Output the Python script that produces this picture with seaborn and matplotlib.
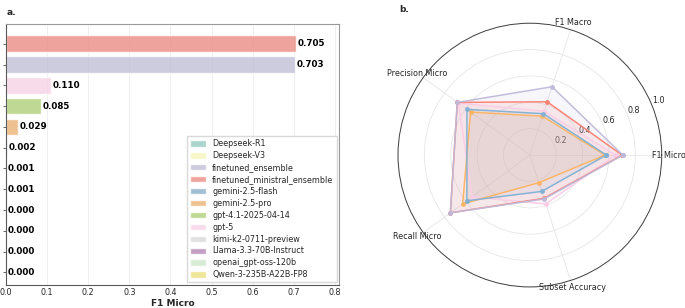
import numpy as np
import pandas as pd
import matplotlib
matplotlib.use("Agg")
import matplotlib.pyplot as plt
import seaborn as sns

# ---------------- data ----------------
models = ["finetuned_ministral_ensemble", "finetuned_ensemble", "gpt-5",
          "gpt-4.1-2025-04-14", "gemini-2.5-pro", "gemini-2.5-flash",
          "kimi-k2-0711-preview", "Deepseek-V3", "Deepseek-R1",
          "Llama-3.3-70B-Instruct", "openai_gpt-oss-120b", "Qwen-3-235B-A22B-FP8"]
f1_micro = [0.705, 0.703, 0.110, 0.085, 0.029, 0.002, 0.001, 0.001, 0.000, 0.000, 0.000, 0.000]

legend_order = ["Deepseek-R1", "Deepseek-V3", "finetuned_ensemble",
                "finetuned_ministral_ensemble", "gemini-2.5-flash", "gemini-2.5-pro",
                "gpt-4.1-2025-04-14", "gpt-5", "kimi-k2-0711-preview",
                "Llama-3.3-70B-Instruct", "openai_gpt-oss-120b", "Qwen-3-235B-A22B-FP8"]

radar_metrics = ["F1 Micro", "F1 Macro", "Precision Micro", "Recall Micro", "Subset Accuracy"]
radar_models = ["gpt-5", "gemini-2.5-pro", "gemini-2.5-flash",
                "finetuned_ministral_ensemble", "finetuned_ensemble"]
radar_gpt5 = [0.65, 0.35, 0.67, 0.54, 0.39]
radar_gemini_pro = [0.57, 0.31, 0.555, 0.63, 0.22]
radar_gemini_flash = [0.58, 0.33, 0.59, 0.59, 0.29]
radar_finetuned_ministral = [0.70, 0.425, 0.68, 0.745, 0.345]
radar_finetuned_ensemble = [0.705, 0.545, 0.68, 0.745, 0.35]
radar_values = [radar_gpt5, radar_gemini_pro, radar_gemini_flash,
                radar_finetuned_ministral, radar_finetuned_ensemble]

# ---------------- style ----------------
sns.set_theme(style="whitegrid")
plt.rcParams['font.family'] = ['DejaVu Sans']
palette = dict(zip(legend_order, sns.color_palette("Set3", 12)))

fig = plt.figure(figsize=(6.85, 3.08), dpi=100)

# ---------------- panel a ----------------
ax = fig.add_axes([0.0088, 0.075, 0.486, 0.847])
df = pd.DataFrame({"model": models, "F1 Micro": f1_micro})
sns.barplot(data=df, y="model", x="F1 Micro", hue="model", order=models,
            hue_order=legend_order, palette=palette, dodge=False, alpha=0.8,
            width=0.8, legend=True, ax=ax)
for i, v in enumerate(f1_micro):
    ax.text(v + 0.004, i, f"{v:.3f}", va="center", ha="left",
            fontsize=6.3, fontweight="bold", color="black")
ax.set_xlim(0, 0.81)
ax.set_ylim(11.6, -0.95)
ax.set_yticks(range(len(models)))
ax.set_yticklabels([])
ax.set_ylabel("")
ax.set_xlabel("F1 Micro", fontsize=6.5, fontweight="bold", labelpad=2)
ax.tick_params(axis="x", labelsize=5.8, pad=2, length=0)
ax.tick_params(axis="y", left=True, length=2, width=0.6, color="0.3")
ax.grid(axis="y", visible=False)
ax.grid(axis="x", color="0.92", linewidth=0.6)
for s in ax.spines.values():
    s.set_color("0.6")
    s.set_linewidth(0.8)
ax.spines["left"].set_color("0.35")
ax.spines["bottom"].set_color("0.35")
leg = ax.legend(loc="lower right", fontsize=5.8, frameon=True, framealpha=1,
                borderaxespad=0.3, labelspacing=0.36, handlelength=2.0,
                handleheight=0.8, handletextpad=0.7, edgecolor="0.85",
                fancybox=False)
fig.text(0.01, 0.975, "a.", fontsize=6.5, fontweight="bold", va="top")

# ---------------- panel b ----------------
pax = fig.add_axes([0.581, 0.068, 0.385, 0.857], projection="polar")
angles = np.linspace(0, 2 * np.pi, len(radar_metrics), endpoint=False)
rows = []
for m, vals in zip(radar_models, radar_values):
    for a, v in zip(list(angles) + [2 * np.pi], vals + [vals[0]]):
        rows.append({"model": m, "angle": a, "value": v})
rdf = pd.DataFrame(rows)
sns.lineplot(data=rdf, x="angle", y="value", hue="model", hue_order=radar_models,
             palette=palette, sort=False, marker="o", markersize=3.5,
             markeredgewidth=0, linewidth=1.1, legend=False, ax=pax, alpha=0.95)
for m, vals in zip(radar_models, radar_values):
    pax.fill(list(angles) + [angles[0]], vals + [vals[0]],
             color=palette[m], alpha=0.12, linewidth=0)
pax.set_ylim(0, 1.0)
pax.set_xticks(angles)
pax.set_xticklabels([])
for a, name in zip(angles, radar_metrics):
    pax.text(a, 1.055, name, ha="center", va="center", fontsize=5.8,
             color="0.15", clip_on=False)
pax.set_yticks([0.2, 0.4, 0.6, 0.8, 1.0])
pax.set_yticklabels(["0.2", "0.4", "0.6", "0.8", "1.0"], fontsize=5.8)
pax.set_rlabel_position(22.5)
pax.set_xlabel("")
pax.set_ylabel("")
pax.grid(color="0.9", linewidth=0.6)
pax.spines["polar"].set_color("0.25")
pax.spines["polar"].set_linewidth(0.7)
pax.set_facecolor("white")
fig.text(0.583, 0.985, "b.", fontsize=6.5, fontweight="bold", va="top")

fig.savefig("out.png", dpi=100)
